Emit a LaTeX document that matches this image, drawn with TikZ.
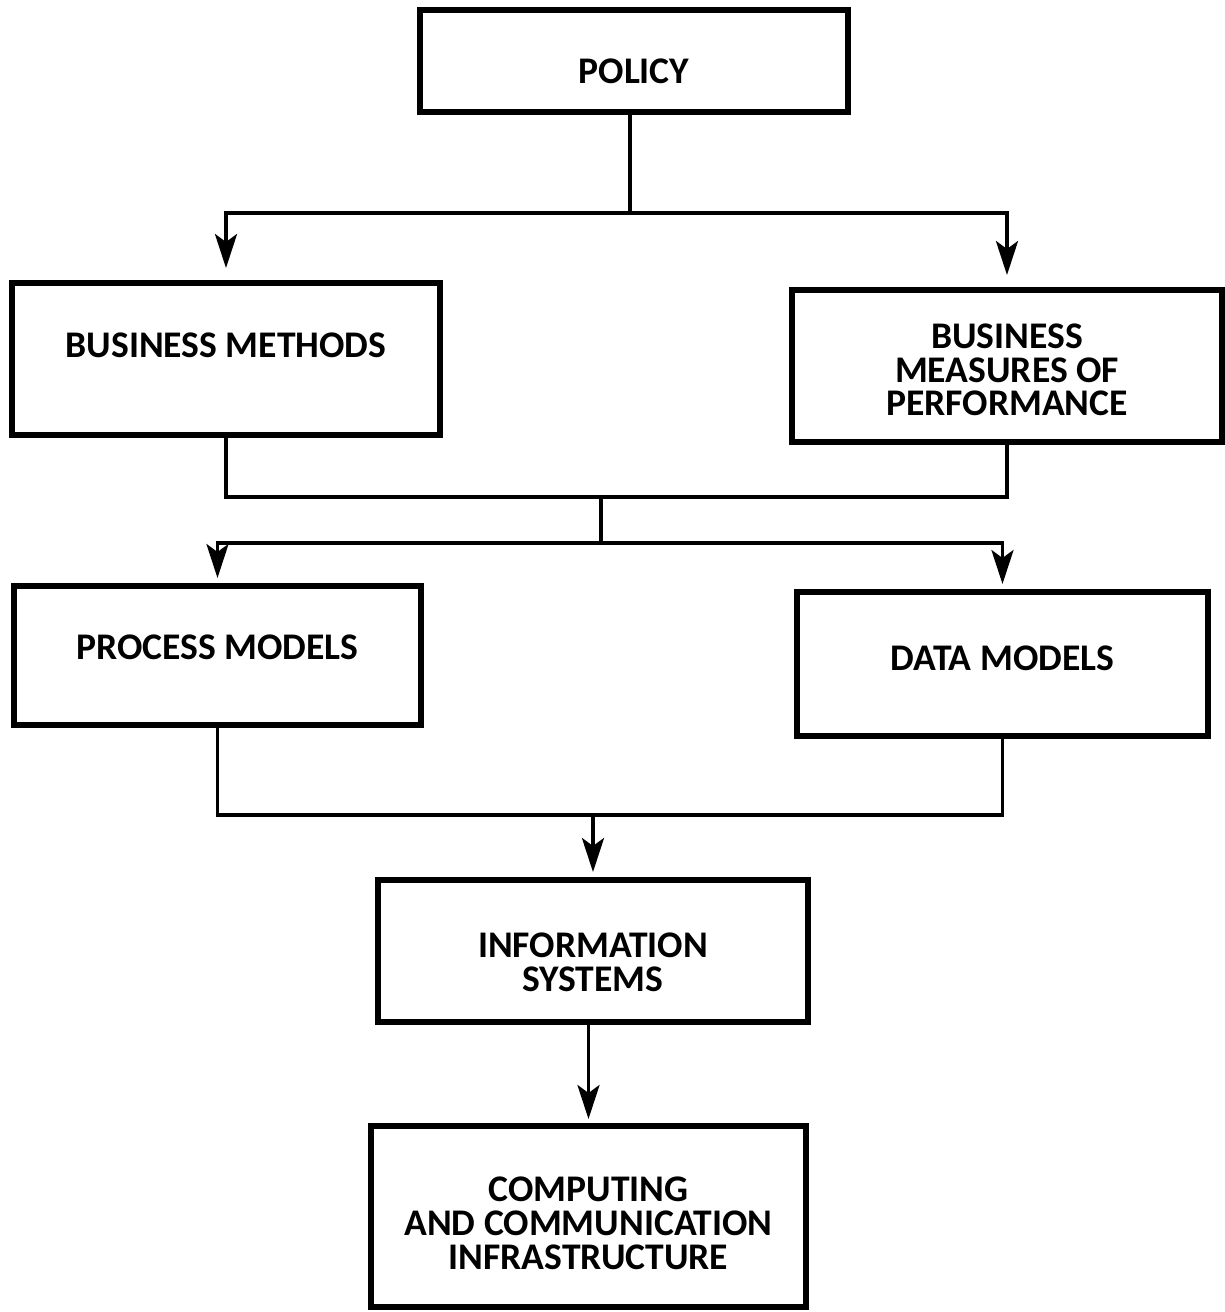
\documentclass[tikz,border=0pt]{standalone}
\usepackage{fontspec}
\setmainfont{Carlito}
\usetikzlibrary{arrows.meta}
\begin{document}
\begin{tikzpicture}[
  box/.style={draw, line width=1.7pt},
  txt/.style={align=center, font=\fontsize{10.7}{9.6}\selectfont\bfseries},
  link/.style={line width=1.1pt},
  arr/.style={link, -{Stealth[length=0.34cm, width=0.22cm, inset=0.08cm]}}
]
  \useasboundingbox (0,0) rectangle (12.25,-13.12);

  % Boxes
  \node[box, minimum width=4.28cm, minimum height=1.02cm,
    label={[txt, yshift=-0.10cm]center:POLICY}] (policy) at (6.34,-0.61) {};
  \node[box, minimum width=4.28cm, minimum height=1.52cm,
    label={[txt, yshift=0.14cm]center:BUSINESS METHODS}] (methods) at (2.26,-3.59) {};
  \node[box, minimum width=4.30cm, minimum height=1.52cm,
    label={[txt, yshift=-0.04cm]center:{BUSINESS\\MEASURES OF\\PERFORMANCE}}] (measures) at (10.07,-3.66) {};
  \node[box, minimum width=4.07cm, minimum height=1.39cm,
    label={[txt, yshift=0.08cm]center:PROCESS MODELS}] (process) at (2.175,-6.555) {};
  \node[box, minimum width=4.11cm, minimum height=1.44cm,
    label={[txt, yshift=0.06cm]center:DATA MODELS}] (data) at (10.025,-6.64) {};
  \node[box, minimum width=4.30cm, minimum height=1.42cm,
    label={[txt, yshift=-0.11cm]center:{INFORMATION\\SYSTEMS}}] (infosys) at (5.93,-9.51) {};
  \node[box, minimum width=4.35cm, minimum height=1.81cm,
    label={[txt, yshift=-0.07cm]center:{COMPUTING\\AND COMMUNICATION\\INFRASTRUCTURE}}] (infra) at (5.885,-12.165) {};

  % Policy to business
  \coordinate (split1) at (6.30,-2.13);
  \draw[link] (policy.south -| split1) -- (split1);
  \draw[arr, shorten >=0.12cm] (split1) -| (methods.north);
  \draw[arr, shorten >=0.12cm] (split1) -| (measures.north);

  % Business to models
  \coordinate (join2) at (6.01,-4.97);
  \coordinate (split2) at (6.01,-5.43);
  \draw[link] (methods.south) |- (join2) -| (measures.south);
  \draw[link] (join2) -- (split2);
  \draw[arr, shorten >=0.05cm] (split2) -| (process.north);
  \draw[arr, shorten >=0.05cm] (split2) -| (data.north);

  % Models to information systems
  \coordinate (join3) at (5.93,-8.15);
  \draw[link] (process.south) |- (join3) -| (data.south);
  \draw[arr, shorten >=0.05cm] (join3) -- (infosys.north);

  % Information systems to infrastructure
  \draw[arr, shorten >=0.04cm] (infosys.south -| infra.north) -- (infra.north);
\end{tikzpicture}
\end{document}
